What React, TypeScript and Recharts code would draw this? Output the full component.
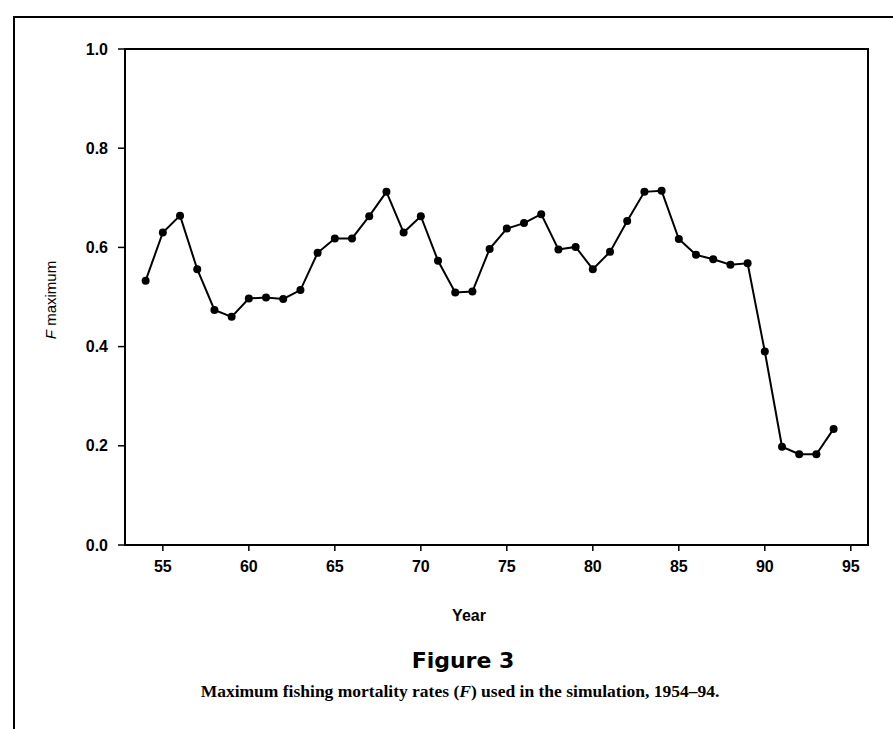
import React from 'react';
import { LineChart, Line, XAxis, YAxis, ReferenceArea } from 'recharts';

const years = [
  54, 55, 56, 57, 58, 59, 60, 61, 62, 63, 64, 65, 66, 67, 68, 69, 70, 71, 72, 73, 74,
  75, 76, 77, 78, 79, 80, 81, 82, 83, 84, 85, 86, 87, 88, 89, 90, 91, 92, 93, 94,
];
const fMaximum = [
  0.533, 0.63, 0.664, 0.556, 0.474, 0.46, 0.497, 0.499, 0.496, 0.514, 0.589, 0.618, 0.618,
  0.663, 0.712, 0.63, 0.663, 0.573, 0.509, 0.511, 0.597, 0.638, 0.649, 0.667, 0.596, 0.601,
  0.556, 0.591, 0.653, 0.712, 0.714, 0.617, 0.585, 0.576, 0.565, 0.568, 0.39, 0.198, 0.183,
  0.183, 0.234,
];
const xTicks = [55, 60, 65, 70, 75, 80, 85, 90, 95];
const yTicks = [0, 0.2, 0.4, 0.6, 0.8, 1.0];
const xDomain: [number, number] = [52.8, 96];
const yDomain: [number, number] = [0, 1];

const data = years.map((year, i) => ({ year, f: fMaximum[i] }));

const tickFont = {
  fill: '#000',
  fontSize: 16,
  fontWeight: 'bold',
  fontFamily: '"Liberation Sans", Arial, sans-serif',
};
const axisLine = { stroke: '#000', strokeWidth: 2 };
const tickLine = { stroke: '#000', strokeWidth: 1.5 };

export default function App() {
  return (
    <div
      style={{
        position: 'absolute',
        left: 0,
        top: 0,
        width: 893,
        height: 729,
        background: '#fff',
        overflow: 'hidden',
      }}
    >
      <div style={{ position: 'absolute', left: 13, top: 16, width: 880, height: 2, background: '#000' }} />
      <div style={{ position: 'absolute', left: 13, top: 16, width: 2, height: 713, background: '#000' }} />
      <div style={{ position: 'absolute', left: 0, top: 0 }}>
        <LineChart
          width={893}
          height={729}
          data={data}
          margin={{ top: 49, right: 25, bottom: 154, left: 0 }}
        >
          <XAxis
            dataKey="year"
            type="number"
            domain={xDomain}
            ticks={xTicks}
            allowDataOverflow
            height={30}
            tickSize={6}
            tickMargin={10}
            tick={tickFont}
            axisLine={axisLine}
            tickLine={tickLine}
          />
          <YAxis
            type="number"
            domain={yDomain}
            ticks={yTicks}
            width={125}
            tickSize={7}
            tickMargin={10}
            tick={tickFont}
            tickFormatter={(v: number) => v.toFixed(1)}
            axisLine={axisLine}
            tickLine={tickLine}
          />
          <ReferenceArea
            x1={xDomain[0]}
            x2={xDomain[1]}
            y1={yDomain[0]}
            y2={yDomain[1]}
            fill="none"
            fillOpacity={0}
            stroke="#000"
            strokeWidth={2}
            ifOverflow="visible"
          />
          <Line
            dataKey="f"
            type="linear"
            stroke="#000"
            strokeWidth={2}
            dot={{ r: 4, fill: '#000', stroke: '#000', strokeWidth: 0 }}
            isAnimationActive={false}
          />
        </LineChart>
      </div>
      <div
        style={{
          position: 'absolute',
          left: 50,
          top: 300,
          transform: 'translate(-50%, -50%) rotate(-90deg)',
          whiteSpace: 'nowrap',
          fontFamily: '"Liberation Sans", Arial, sans-serif',
          fontSize: 15,
          lineHeight: '15px',
          color: '#000',
        }}
      >
        <i>F</i> maximum
      </div>
      <div
        style={{
          position: 'absolute',
          left: 469,
          top: 608,
          transform: 'translateX(-50%)',
          whiteSpace: 'nowrap',
          fontFamily: '"Liberation Sans", Arial, sans-serif',
          fontWeight: 'bold',
          fontSize: 16,
          lineHeight: '16px',
          color: '#000',
        }}
      >
        Year
      </div>
      <div
        style={{
          position: 'absolute',
          left: 463,
          top: 650,
          transform: 'translateX(-50%)',
          whiteSpace: 'nowrap',
          fontFamily: '"DejaVu Sans", Verdana, sans-serif',
          fontWeight: 'bold',
          fontSize: 22,
          lineHeight: '22px',
          color: '#000',
        }}
      >
        Figure 3
      </div>
      <div
        style={{
          position: 'absolute',
          left: 460,
          top: 683,
          transform: 'translateX(-50%)',
          whiteSpace: 'nowrap',
          fontFamily: '"Liberation Serif", "DejaVu Serif", serif',
          fontWeight: 'bold',
          fontSize: 17.5,
          lineHeight: '17.5px',
          color: '#000',
        }}
      >
        Maximum fishing mortality rates (<i>F</i>) used in the simulation, 1954–94.
      </div>
    </div>
  );
}
